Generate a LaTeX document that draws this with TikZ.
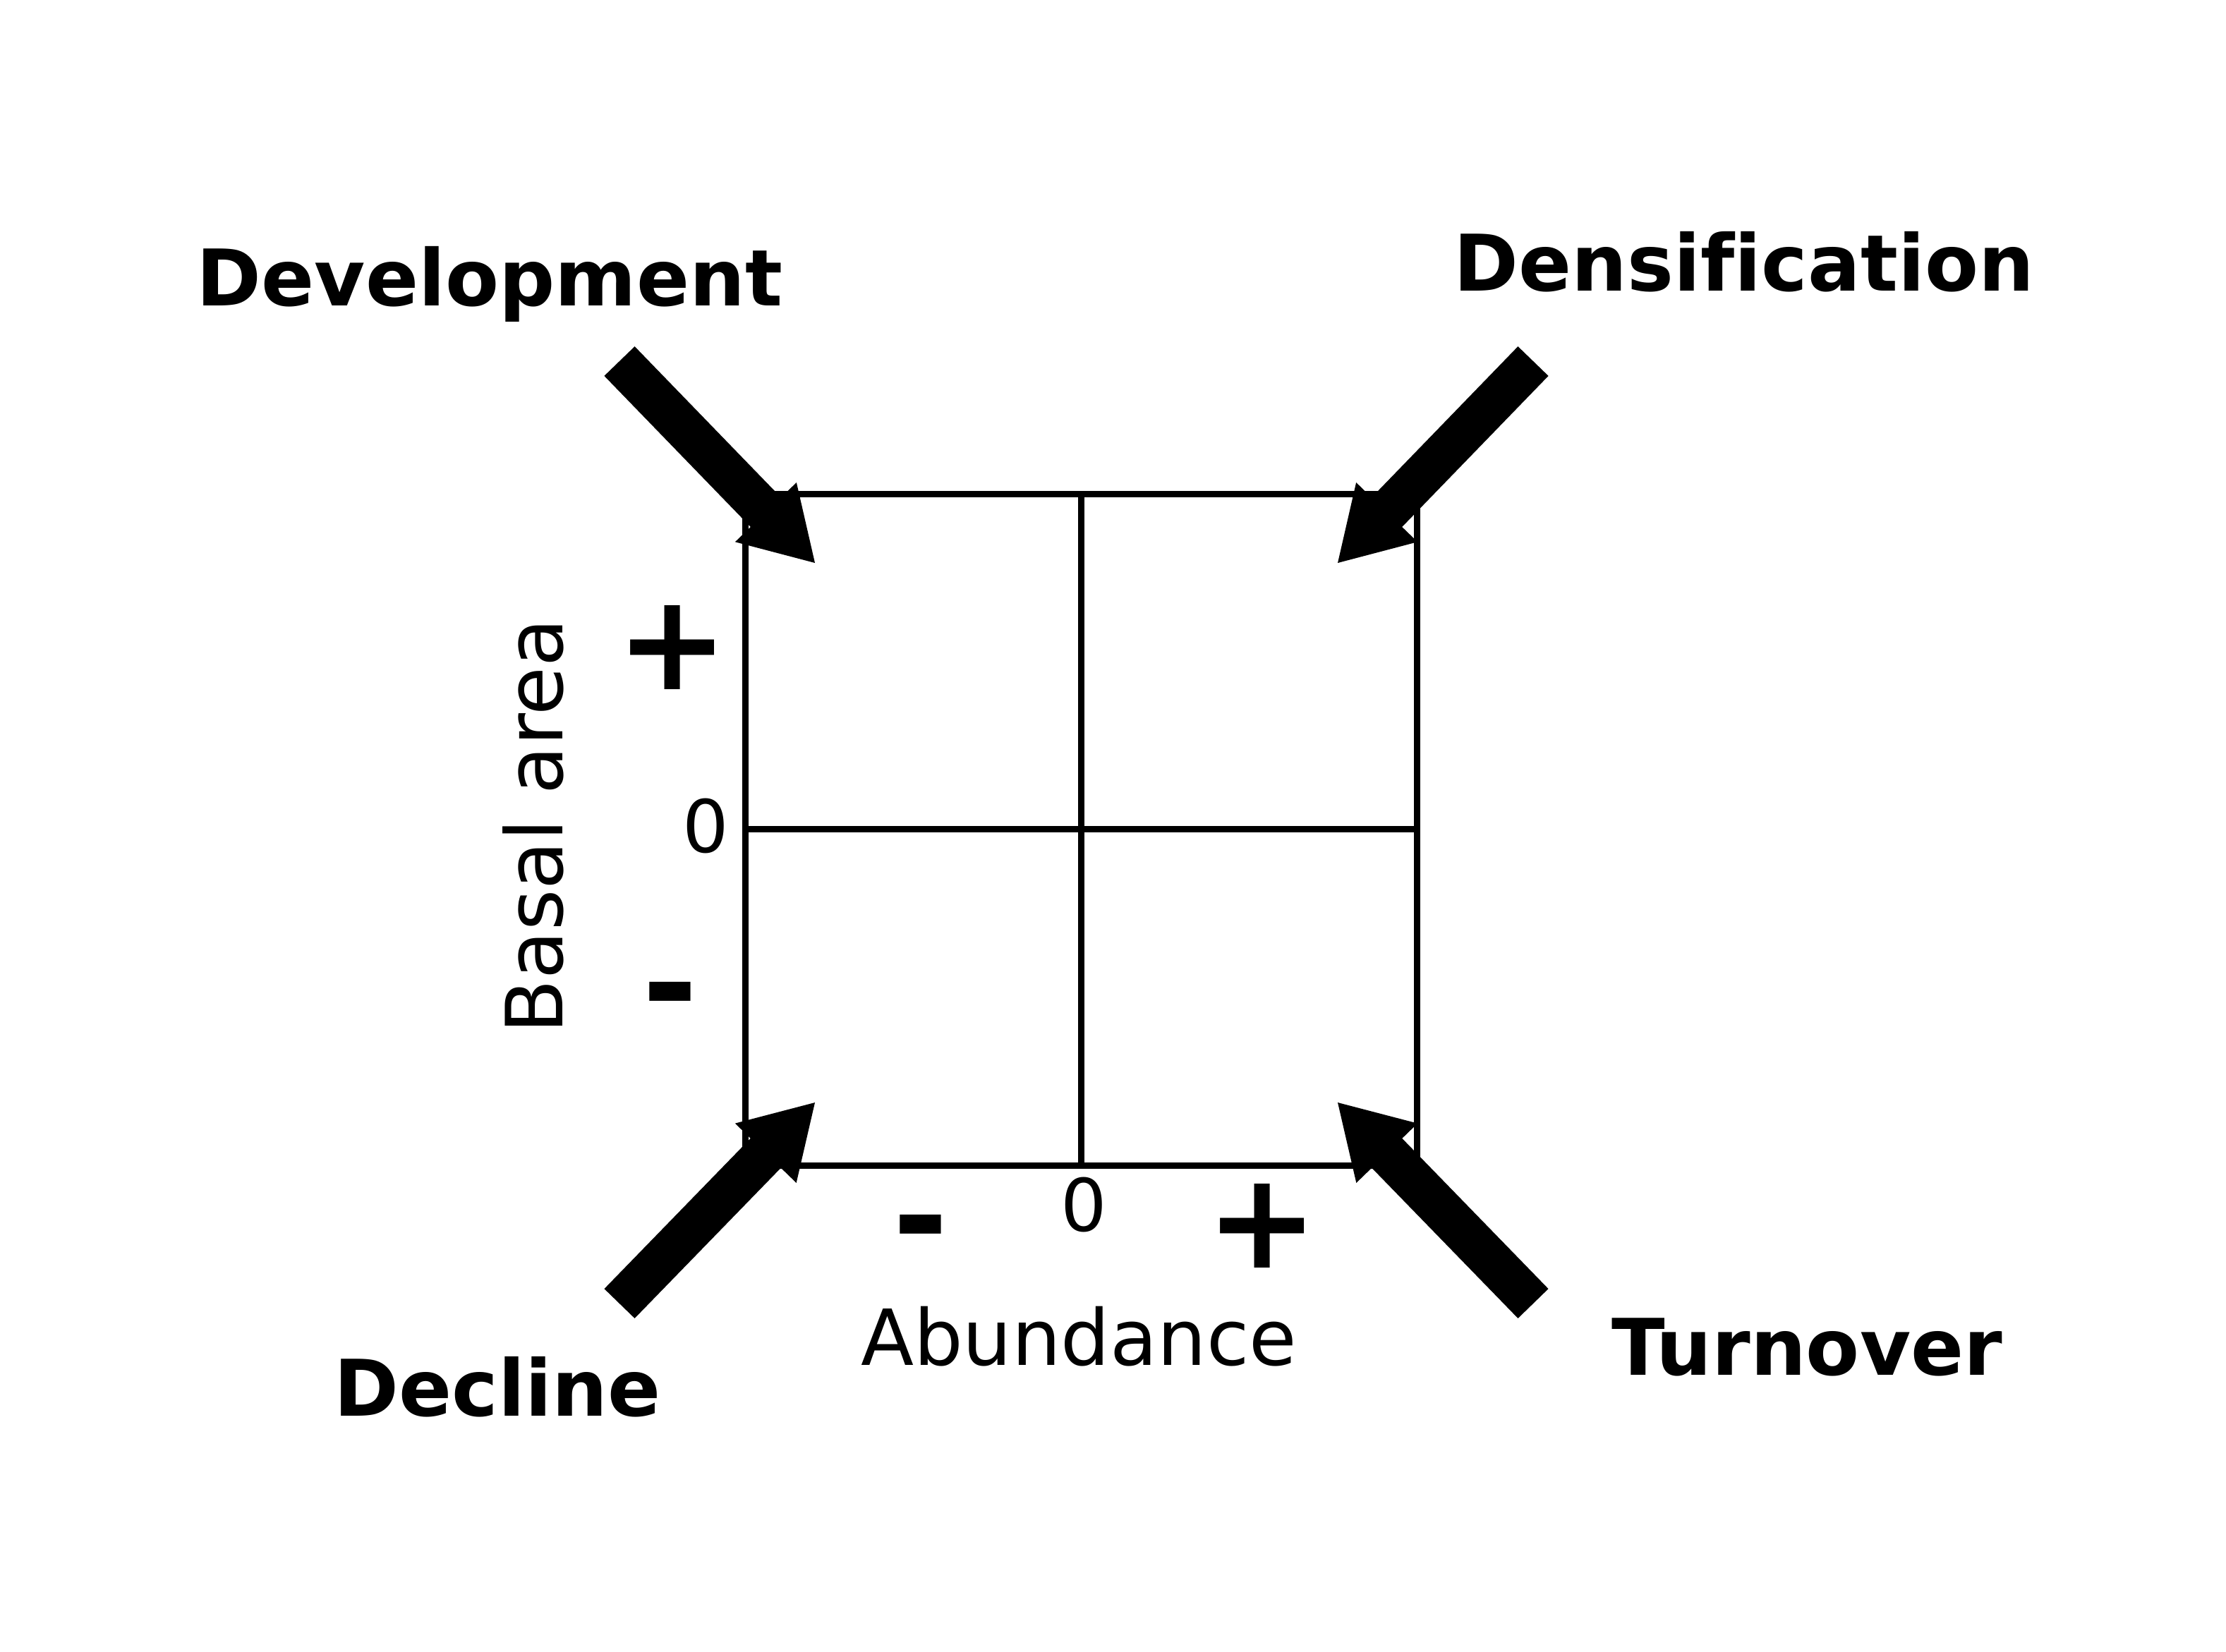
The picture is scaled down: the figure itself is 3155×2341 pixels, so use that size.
\documentclass[tikz,border=0pt]{standalone}
\usepackage{fontspec}
\setmainfont{DejaVu Sans}[Ligatures=NoCommon]
\usetikzlibrary{calc}
\newcommand\BigArrow[2]{%
  \draw[shaft] (#1) -- ($(#2)!0.9cm!(#1)$);
  \fill ($(#2)!1cm!(#1)!0.605cm!90:(#2)$) -- (#2) -- ($(#2)!1cm!(#1)!0.605cm!-90:(#2)$) -- cycle;
}
\begin{document}
\begin{tikzpicture}[x=0.01cm,y=-0.01cm,
  shaft/.style={line width=0.6cm, line cap=butt},
  boxline/.style={line width=0.09cm},
  lab/.style={font=\fontsize{31.5}{36}\selectfont\bfseries, inner sep=0pt},
  axislab/.style={font=\fontsize{31.2}{36}\selectfont, inner sep=0pt},
  zero/.style={font=\fontsize{29.3}{34}\selectfont, inner sep=0pt},
  sign/.style={font=\fontsize{54}{60}\selectfont\bfseries, inner sep=0pt}]
\useasboundingbox[fill=white] (0,0) rectangle (3155,2341);

% quadrant box
\coordinate (bl) at (1056,1652);
\coordinate (tr) at (2008,700);
\draw[boxline] (bl) rectangle (tr);
\draw[boxline] (1532,700) -- (1532,1652);
\draw[boxline] (1056,1175) -- (2008,1175);

% arrows
\coordinate (devS) at (878,512);   \coordinate (devT) at (1155,798);
\coordinate (denS) at (2173,512);  \coordinate (denT) at (1896,798);
\coordinate (decS) at (878,1848);  \coordinate (decT) at (1155,1563);
\coordinate (turS) at (2173,1848); \coordinate (turT) at (1896,1563);
\BigArrow{devS}{devT}
\BigArrow{denS}{denT}
\BigArrow{decS}{decT}
\BigArrow{turS}{turT}

% labels
\node[lab, anchor=base] (ndev)  at (694,433)   {Development};
\node[lab, anchor=base] (ndens) at (2472,412)  {Densification};
\node[lab, anchor=base] (ndec)  at (705,2007)  {Decline};
\node[lab, anchor=base] (nturn) at (2561,1949) {Turnover};

% axes text
\node[axislab, anchor=base] (nabund) at (1529,1935) {Abundance};
\node[axislab, anchor=base, rotate=90, font=\fontsize{31.8}{36}\selectfont] (nbasal) at (797,1171) {Basal area};

\node[sign] (pl1) at (953,918) {+};
\node[sign, anchor=north] (mi1) at (950,1392) {-};
\node[zero] (z1) at (1000,1171) {0};

\node[sign, anchor=north] (mi2) at (1305,1722) {-};
\node[zero] (z2) at (1536,1708) {0};
\node[sign] (pl2) at (1789,1738) {+};
\end{tikzpicture}
\end{document}
